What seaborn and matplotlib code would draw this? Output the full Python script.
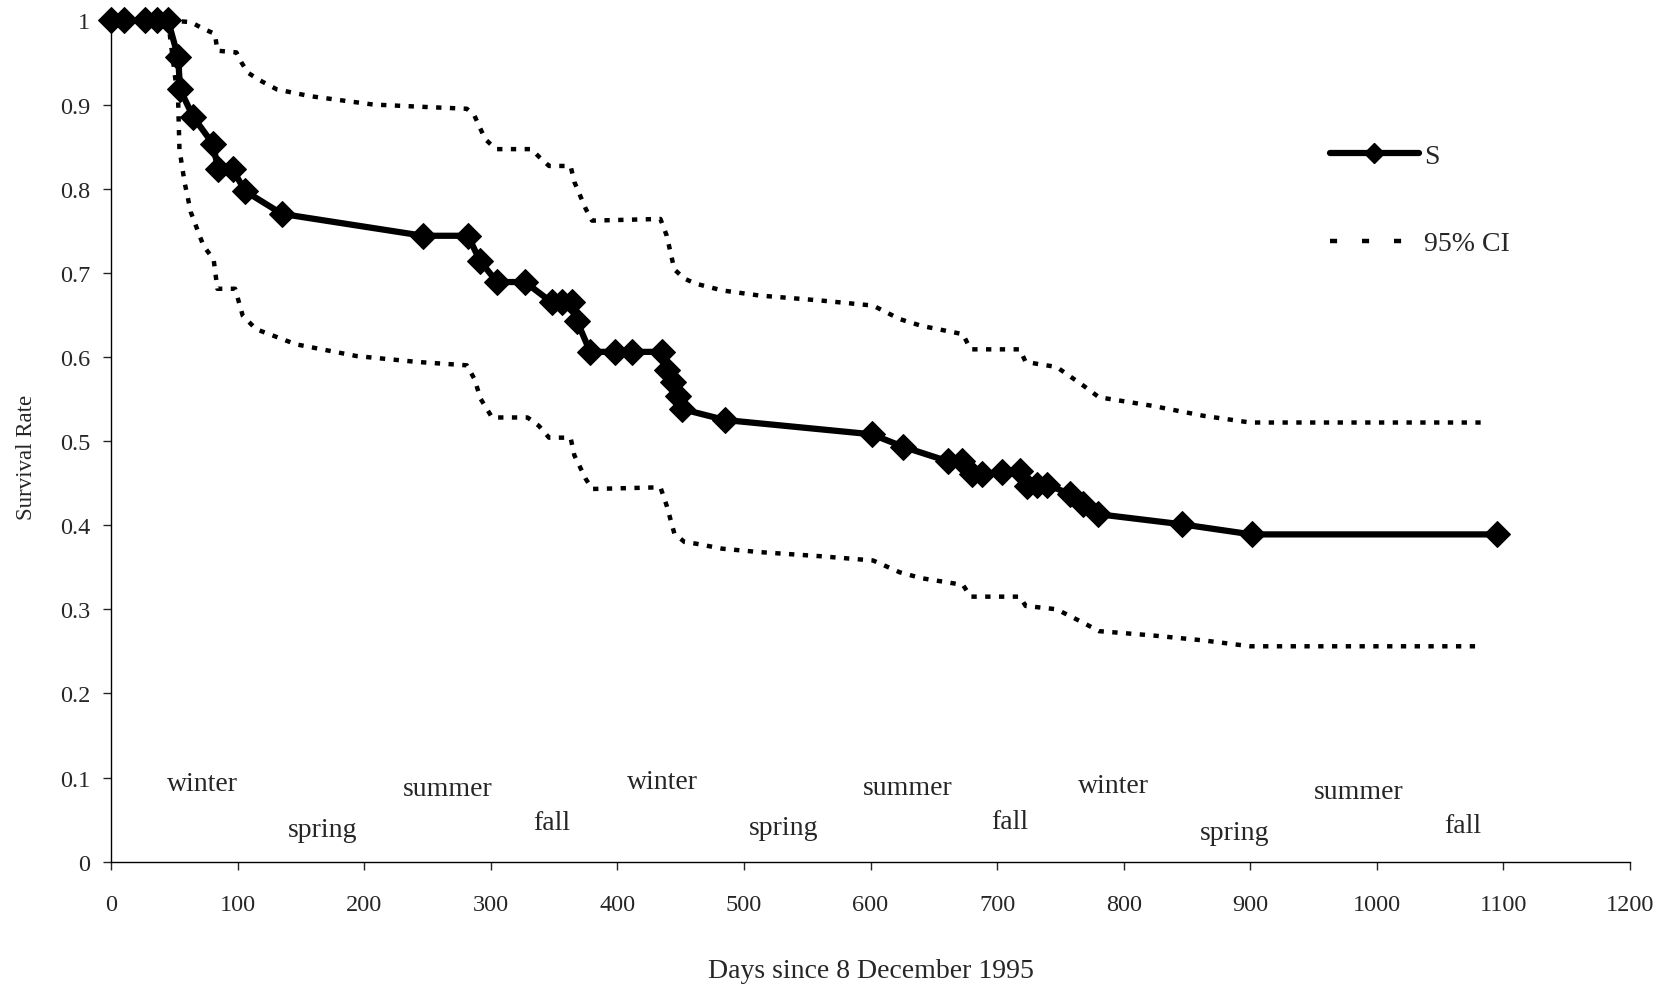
import matplotlib
matplotlib.use("Agg")
import matplotlib.pyplot as plt
from matplotlib.lines import Line2D
import seaborn as sns
import pandas as pd

# ---- data ----
s_days = [0, 10, 27, 36, 45, 53, 54.5, 65, 80.6, 84.5, 96, 106, 135, 246.5, 282, 291.5,
          305, 327, 348, 356, 364, 368, 378.5, 398, 411.6, 435, 439, 444, 448, 451, 485,
          601, 626, 661, 672, 680, 688, 704, 718, 723.6, 731.6, 739.5, 757.6, 768, 780,
          846, 901, 1095]
s_vals = [1, 1, 1, 1, 1, 0.956, 0.918, 0.885, 0.853, 0.823, 0.823, 0.797, 0.770, 0.744,
          0.744, 0.714, 0.689, 0.689, 0.665, 0.665, 0.665, 0.643, 0.606, 0.606, 0.606,
          0.606, 0.585, 0.570, 0.554, 0.538, 0.525, 0.508, 0.493, 0.476, 0.476, 0.461,
          0.461, 0.463, 0.464, 0.447, 0.448, 0.448, 0.437, 0.425, 0.413, 0.401, 0.389,
          0.389]

up_days = [45, 63, 73, 82, 84, 99, 103, 108, 116, 131, 157, 207, 250, 281, 287, 295.5,
           304, 332, 338, 346, 363, 366, 375, 380, 434, 439, 445, 453, 462, 483, 512, 561,
           602, 623, 640, 673, 679, 718, 722.5, 747, 768, 780.5, 822, 863, 900, 1082]
up_vals = [1.0, 0.998, 0.990, 0.984, 0.964, 0.962, 0.950, 0.938, 0.930, 0.918, 0.910,
           0.900, 0.897, 0.895, 0.887, 0.859, 0.847, 0.847, 0.838, 0.827, 0.827, 0.808,
           0.776, 0.762, 0.764, 0.744, 0.704, 0.693, 0.687, 0.679, 0.673, 0.667, 0.661,
           0.645, 0.637, 0.627, 0.609, 0.609, 0.594, 0.588, 0.566, 0.552, 0.542, 0.530,
           0.522, 0.522]

lo_days = [45, 53, 54, 58, 63, 73, 81, 84, 98, 104, 114.5, 146, 194, 242, 281, 287, 292,
           301, 329, 338, 346, 363, 366, 375, 380, 434, 439, 445, 453, 462, 483, 512, 561,
           602, 623, 640, 673, 679, 718, 722.5, 747, 768, 780.5, 822, 863, 900, 1082]
lo_vals = [1.0, 0.903, 0.847, 0.808, 0.772, 0.732, 0.716, 0.681, 0.681, 0.649, 0.633,
           0.615, 0.601, 0.594, 0.590, 0.574, 0.550, 0.528, 0.528, 0.518, 0.504, 0.504,
           0.483, 0.455, 0.443, 0.445, 0.423, 0.390, 0.380, 0.378, 0.372, 0.368, 0.363,
           0.358, 0.344, 0.337, 0.329, 0.315, 0.315, 0.304, 0.300, 0.284, 0.274, 0.269,
           0.263, 0.256, 0.256]

seasons = ["winter", "spring", "summer", "fall", "winter", "spring", "summer", "fall",
           "winter", "spring", "summer", "fall"]
season_x = [72, 167, 266, 348, 436, 531, 629, 710, 792, 888, 986, 1068]
season_y = [0.093, 0.038, 0.087, 0.046, 0.095, 0.040, 0.088, 0.048, 0.090, 0.035, 0.083, 0.043]

x_ticks = list(range(0, 1201, 100))
y_ticks = [0, 0.1, 0.2, 0.3, 0.4, 0.5, 0.6, 0.7, 0.8, 0.9, 1.0]
y_tick_labels = ["0", "0.1", "0.2", "0.3", "0.4", "0.5", "0.6", "0.7", "0.8", "0.9", "1"]

legend_labels = ["S", "95% CI"]

# ---- style ----
sns.set_style("ticks")
plt.rcParams["font.family"] = ["Liberation Serif", "DejaVu Serif"]

fig = plt.figure(figsize=(16.78, 9.87), dpi=100)
ax = fig.add_axes([0.0662, 0.126, 0.9052, 0.8523])

df_s = pd.DataFrame({"day": s_days, "S": s_vals})
df_up = pd.DataFrame({"day": up_days, "v": up_vals})
df_lo = pd.DataFrame({"day": lo_days, "v": lo_vals})

dot = (0, (1.2, 1.9))
sns.lineplot(data=df_up, x="day", y="v", sort=False, estimator=None, color="black",
             lw=3.2, linestyle=dot, ax=ax)
sns.lineplot(data=df_lo, x="day", y="v", sort=False, estimator=None, color="black",
             lw=3.2, linestyle=dot, ax=ax)
sns.lineplot(data=df_s, x="day", y="S", sort=False, estimator=None, color="black",
             lw=4.5, marker="D", markersize=13, markeredgecolor="black", ax=ax)
for ln in ax.lines:
    ln.set_clip_on(False)

for name, sx, sy in zip(seasons, season_x, season_y):
    ax.text(sx, sy, name, ha="center", va="center", fontsize=20)

ax.set_xlim(0, 1200)
ax.set_ylim(0, 1)
ax.set_xticks(x_ticks)
ax.set_xticklabels([str(t) for t in x_ticks])
ax.set_yticks(y_ticks)
ax.set_yticklabels(y_tick_labels)
ax.tick_params(axis="x", length=6, width=1, pad=17, labelsize=17.5)
ax.tick_params(axis="y", length=6, width=1, pad=9, labelsize=17.5)
sns.despine(ax=ax)
for sp in ("left", "bottom"):
    ax.spines[sp].set_linewidth(1.0)
    ax.spines[sp].set_color("black")

ax.set_xlabel("Days since 8 December 1995", fontsize=20, labelpad=31)
ax.set_ylabel("Survival Rate", fontsize=16.5)
ax.yaxis.set_label_coords(-0.049, 0.482)

handles = [
    Line2D([], [], color="black", lw=4.5, marker="D", markersize=10),
    Line2D([], [], color="black", lw=3.2, linestyle=(0, (1.6, 5.6))),
]
ax.legend(handles, legend_labels, loc="upper left", bbox_to_anchor=(0.7926, 0.854),
          bbox_transform=fig.transFigure, frameon=False, fontsize=20, borderpad=0,
          borderaxespad=0, handlelength=3.2, handletextpad=0.2, labelspacing=2.25)

fig.savefig("out.png", dpi=100)
